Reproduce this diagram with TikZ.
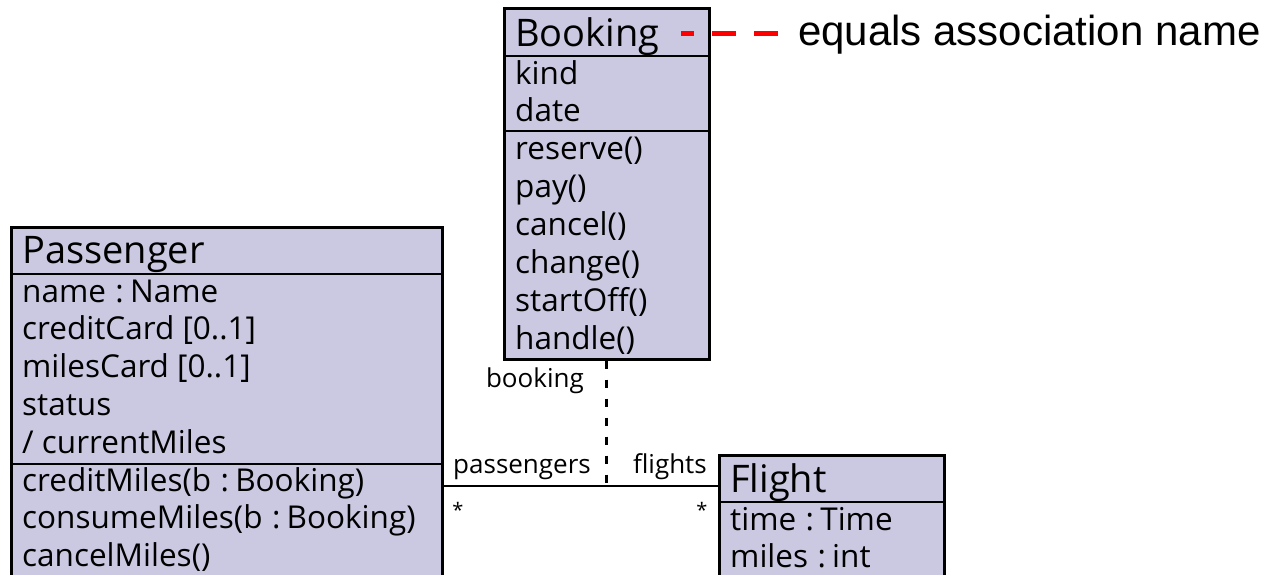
\documentclass[tikz,border=0pt]{standalone}
\usepackage{fontspec}
\setmainfont{Open Sans}
\newfontfamily\arialfont{Liberation Sans}
\usetikzlibrary{calc}
\definecolor{umlfill}{RGB}{203,201,225}
\definecolor{notered}{RGB}{255,0,0}
\newcommand{\cln}{\hspace{0.3em}:\hspace{0.2em}}
\begin{document}
\begin{tikzpicture}[x=1pt,y=-1pt,
  classbox/.style={draw=black, line width=2.7pt, fill=umlfill, rectangle, inner sep=0pt, anchor=north west},
  sepline/.style={line width=2.5pt},
  header/.style={anchor=base west, inner sep=0pt, font=\fontsize{38}{38}\selectfont},
  member/.style={anchor=base west, inner sep=0pt, font=\fontsize{31.5}{31.5}\selectfont},
  rolelabel/.style={inner sep=0pt, font=\fontsize{26}{26}\selectfont},
  assoc/.style={line width=2.5pt},
  linkdash/.style={line width=3pt, dash pattern=on 8pt off 11pt},
  reddash/.style={line width=5pt, draw=notered, dash pattern=on 24pt off 18pt, dash phase=11pt},
  notetext/.style={anchor=base west, inner sep=0pt, font=\arialfont\fontsize{42}{42}\selectfont},
]
\clip (0,0) rectangle (1272,574);
\fill[white] (0,0) rectangle (1272,574);

% Booking
\node[classbox, minimum width=205pt, minimum height=351pt] (booking) at (503,7) {};
\draw[sepline] (503,56) -- (708,56);
\draw[sepline] (503,131) -- (708,131);
\node[header] (bkname) at (515,46) {Booking};
\foreach \t [count=\i from 0] in {kind,date,reserve(),pay(),cancel(),change(),startOff(),handle()}
  \node[member] (bk\i) at (515,{84+37.86*\i}) {\t};

% Passenger
\node[classbox, minimum width=431pt, minimum height=420pt] (passenger) at (10,226) {};
\draw[sepline] (10,274) -- (441,274);
\draw[sepline] (10,464) -- (441,464);
\node[header] (psname) at (22,263) {Passenger};
\foreach \t [count=\i from 0] in {name\cln Name,creditCard [0..1],milesCard [0..1],status,/ currentMiles,creditMiles(b\cln Booking),consumeMiles(b\cln Booking),cancelMiles()}
  \node[member] (ps\i) at (22,{302+37.8*\i}) {\t};

% Flight
\node[classbox, minimum width=225pt, minimum height=200pt] (flight) at (718,454) {};
\draw[sepline] (718,502) -- (943,502);
\node[header] (flname) at (730,492) {Flight};
\node[member] (fl0) at (730,530) {time\cln Time};
\node[member] (fl1) at (730,567) {miles\cln int};

% association
\coordinate (j) at (booking.south |- 0,486);
\draw[assoc] (passenger.east |- j) -- (flight.west |- j);
\draw[linkdash] (booking.south) -- (j);
\node[rolelabel, anchor=base east] (lbooking) at (584,387) {booking};
\node[rolelabel, anchor=base west] (lpass) at (453,473) {passengers};
\node[rolelabel, anchor=base east] (lflights) at (707,473) {flights};
\node[rolelabel, font=\fontsize{20}{20}\selectfont] (m1) at (458,510) {*};
\node[rolelabel, font=\fontsize{20}{20}\selectfont] (m2) at (702,510) {*};

% note
\node[notetext] (note) at (798,45) {equals association name};
\coordinate (rs) at (681,33);
\draw[reddash] (rs) -- ($(note.west |- rs)+(-19,0)$);
\end{tikzpicture}
\end{document}
